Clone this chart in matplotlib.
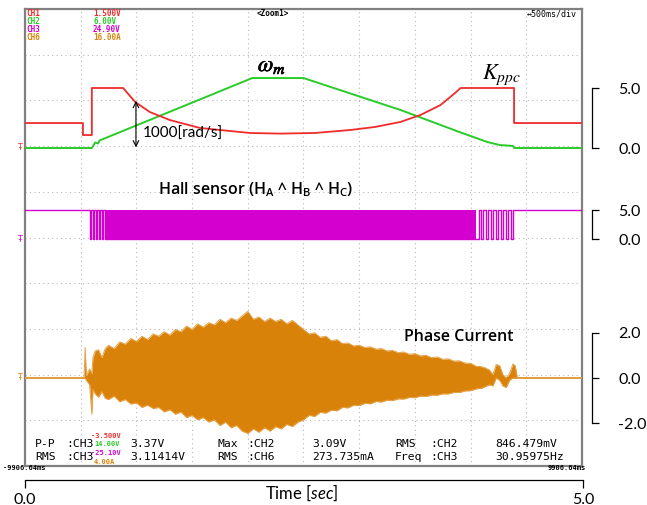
import matplotlib

matplotlib.use("Agg")
import matplotlib.patheffects as pe
import matplotlib.pyplot as plt
import numpy as np

W, H = 647, 505

# ---- values (time in s, levels in right-axis units) ----
kppc_t = [0.0, 0.52, 0.52, 0.60, 0.60, 0.88, 0.99, 1.12, 1.30, 1.57, 2.02, 2.29, 2.60,
          2.92, 3.14, 3.37, 3.55, 3.73, 3.86, 3.91, 4.39, 4.39, 5.0]
kppc_v = [2.08, 2.08, 1.08, 1.08, 5.0, 5.0, 3.83, 3.0, 2.33, 1.67, 1.25, 1.2, 1.25,
          1.5, 1.75, 2.17, 2.75, 3.58, 4.58, 5.0, 5.0, 2.08, 2.08]

wm_t = [0.0, 0.60, 0.63, 0.655, 0.67, 2.04, 2.50, 3.37, 3.90, 4.0, 4.15, 4.26, 4.38, 4.39, 5.0]
wm_v = [0.0, 0.0, 0.45, 0.38, 0.63, 5.83, 5.83, 3.17, 1.33, 1.0, 0.5, 0.25, 0.17, 0.0, 0.0]

hall_t = [0.0, 0.585, 0.592, 0.61, 0.617, 0.64, 0.647, 0.665, 0.672, 0.695, 0.702, 0.72,
          4.05, 4.075, 4.09, 4.11, 4.135, 4.155, 4.18, 4.20, 4.225, 4.245, 4.27, 4.29,
          4.315, 4.335, 4.36, 4.38, 4.405, 5.0]
hall_v = [5, 0, 5, 0, 5, 0, 5, 0, 5, 0, 5, 0,
          0, 5, 0, 5, 0, 5, 0, 5, 0, 5, 0, 5,
          0, 5, 0, 5, 5, 5]
hall_band = [0.72, 4.05]

ph_t = [0.0, 0.53, 0.54, 0.55, 0.58, 0.60, 0.61, 0.63, 0.66, 0.69, 0.72,
        0.75, 0.80, 0.85, 0.90, 0.95, 1.00, 1.05, 1.10, 1.15, 1.20, 1.25, 1.30, 1.35,
        1.40, 1.45, 1.50, 1.55, 1.60, 1.65, 1.70, 1.75, 1.80, 1.85, 1.90, 1.95, 2.00,
        2.05, 2.10, 2.15, 2.20, 2.25, 2.30, 2.35, 2.40, 2.45, 2.50, 2.55, 2.60, 2.65,
        2.70, 2.75, 2.80, 2.85, 2.90, 2.95, 3.00, 3.05, 3.10, 3.15, 3.20, 3.25, 3.30,
        3.35, 3.40, 3.45, 3.50, 3.55, 3.60, 3.65, 3.70, 3.75, 3.80, 3.85, 3.90, 3.95,
        4.00, 4.05, 4.10, 4.13, 4.17, 4.20, 4.23, 4.26, 4.29, 4.32, 4.35, 4.38, 4.40,
        4.42, 5.0]
ph_hi = [0.0, 0.0, 1.35, 0.1, 0.4, 0.2, 0.9, 1.2, 1.25, 0.9, 1.3,
         1.45, 1.30, 1.60, 1.50, 1.75, 1.62, 1.85, 1.70, 1.95, 1.85, 2.05, 1.90, 2.15,
         2.05, 2.30, 2.15, 2.40, 2.25, 2.45, 2.35, 2.60, 2.45, 2.65, 2.55, 2.75, 2.95,
         2.60, 2.70, 2.50, 2.65, 2.50, 2.60, 2.40, 2.55, 2.35, 2.15, 1.95, 2.00, 1.80,
         1.85, 1.65, 1.70, 1.52, 1.55, 1.42, 1.45, 1.35, 1.38, 1.28, 1.30, 1.20, 1.22,
         1.12, 1.15, 1.05, 1.08, 0.98, 1.00, 0.90, 0.93, 0.83, 0.85, 0.75, 0.76, 0.66,
         0.65, 0.52, 0.50, 0.45, 0.35, 0.15, 0.60, 0.55, 0.15, 0.0, 0.2, 0.62, 0.55,
         0.0, 0.0]
ph_lo = [0.0, 0.0, 0.0, -0.1, -0.3, -1.6, -0.5, -0.7, -0.85, -0.6, -0.9,
         -0.95, -0.80, -1.05, -0.95, -1.15, -1.10, -1.30, -1.20, -1.35, -1.30, -1.50, -1.40, -1.60,
         -1.50, -1.75, -1.65, -1.85, -1.75, -1.95, -1.85, -2.10, -1.95, -2.20, -2.10, -2.35, -2.45,
         -2.25, -2.40, -2.20, -2.35, -2.15, -2.25, -2.05, -2.15, -1.95, -1.85, -1.65, -1.70, -1.52,
         -1.55, -1.42, -1.45, -1.30, -1.32, -1.20, -1.22, -1.12, -1.14, -1.04, -1.06, -0.98, -1.00,
         -0.92, -0.93, -0.86, -0.87, -0.80, -0.82, -0.75, -0.76, -0.70, -0.70, -0.64, -0.64, -0.57,
         -0.56, -0.48, -0.45, -0.38, -0.30, -0.35, 0.0, -0.10, -0.35, -0.42, -0.10, 0.0, 0.0,
         0.0, 0.0]

top_ticks = [0.0, 5.0]
hall_ticks = [0.0, 5.0]
ph_ticks = [-2.0, 0.0, 2.0]
time_ticks = [0.0, 5.0]

plt.rcParams["axes.unicode_minus"] = False
plt.rcParams["font.family"] = ["Lato", "DejaVu Sans"]
plt.rcParams["mathtext.fontset"] = "stix"
plt.rcParams["mathtext.rm"] = "Lato"
plt.rcParams["mathtext.it"] = "Lato:italic"
plt.rcParams["mathtext.bf"] = "Lato:bold"

RED = "#ef2b2b"
GREEN = "#28cc28"
MAGENTA = "#d400d0"
ORANGE = "#d98209"
ORANGE_LT = "#e6a247"
GRID = "#b8b8b8"
FRAME = "#808080"
MONO = ["DejaVu Sans Mono", "DejaVu Sans"]

SCOPE = (25, 9, 582, 466)


def box(x0, y0, x1, y1):
    return [x0 / W, 1 - y1 / H, (x1 - x0) / W, (y1 - y0) / H]


fig = plt.figure(figsize=(W / 100, H / 100), dpi=100)


def put(x, y, s, **kw):
    kw.setdefault("va", "center")
    return fig.text(x / W, 1 - y / H, s, **kw)


scope = fig.add_axes(box(*SCOPE))
scope.set_xlim(0, 5)
scope.set_ylim(0, 10)
scope.set_xticks(np.arange(0, 5.01, 0.5))
scope.set_yticks(np.arange(0, 11, 1))
scope.tick_params(length=0, labelbottom=False, labelleft=False)
scope.grid(True, color=GRID, lw=0.8, ls=(0, (1, 3)))
for sp in scope.spines.values():
    sp.set_color(FRAME)
    sp.set_linewidth(1.6)


def channel(zero_px, px_per_unit):
    ax = fig.add_axes(box(*SCOPE))
    lo = -(SCOPE[3] - zero_px) / px_per_unit
    hi = (zero_px - SCOPE[1]) / px_per_unit
    ax.set_xlim(0, 5)
    ax.set_ylim(lo, hi)
    ax.axis("off")
    return ax


def bracket(src, ticks):
    ax = fig.add_axes(box(560, SCOPE[1], 592, SCOPE[3]))
    ax.set_ylim(src.get_ylim())
    ax.patch.set_visible(False)
    for name in ("left", "top", "bottom"):
        ax.spines[name].set_visible(False)
    ax.spines["right"].set_bounds(ticks[0], ticks[-1])
    ax.spines["right"].set_linewidth(0.9)
    ax.set_xticks([])
    ax.yaxis.tick_right()
    ax.set_yticks(ticks)
    ax.set_yticklabels([f"{v:.1f}" for v in ticks])
    ax.tick_params(axis="y", direction="out", length=5, width=0.9, pad=14, labelsize=11.5)
    return ax


top = channel(148, 12.0)
hall = channel(239, 5.8)
phase = channel(378, 22.6)

top.plot(wm_t, wm_v, color=GREEN, lw=1.4)
top.plot(kppc_t, kppc_v, color=RED, lw=1.3)

hall.fill_between(hall_band, 0, 5, color=MAGENTA, lw=0)
hall.step(hall_t, hall_v, where="post", color=MAGENTA, lw=1.0)

phase.plot(ph_t, np.zeros(len(ph_t)), color=ORANGE, lw=1.2)
phase.fill_between(ph_t, ph_lo, ph_hi, color=ORANGE, lw=0)
phase.plot(ph_t, ph_hi, color=ORANGE_LT, lw=0.7)
phase.plot(ph_t, ph_lo, color=ORANGE_LT, lw=0.7)

bracket(top, top_ticks)
bracket(hall, hall_ticks)
bracket(phase, ph_ticks)

# time axis under the capture
tax = fig.add_axes(box(25, 470, 583, 480))
tax.set_xlim(0, 5)
tax.patch.set_visible(False)
for name in ("left", "top", "right"):
    tax.spines[name].set_visible(False)
tax.spines["bottom"].set_linewidth(0.9)
tax.set_yticks([])
tax.set_xticks(time_ticks)
tax.set_xticklabels([f"{v:.1f}" for v in time_ticks])
tax.tick_params(axis="x", direction="out", length=6, width=0.9, pad=3, labelsize=11.5)
put(302, 493, "Time [$\\mathit{sec}$]", ha="center", fontsize=12, math_fontfamily="custom")

# ground markers
for y, c in ((148, RED), (239, MAGENTA), (378, ORANGE)):
    put(20, y, "Ŧ", ha="center", color=c, fontsize=5.5, family="DejaVu Sans")

# annotations
top.annotate("", xy=(0.996, 0.05), xytext=(0.996, 3.92),
             arrowprops=dict(arrowstyle="<->", color="black", lw=0.8, shrinkA=0, shrinkB=0))
put(143, 134, "1000[rad/s]", fontsize=11)
put(272, 66, r"$\omega_m$", ha="center", fontsize=16,
    path_effects=[pe.withStroke(linewidth=0.5, foreground="black")])
put(502, 75, r"$K_{ppc}$", ha="center", fontsize=16)
put(256, 190, r"Hall sensor (H$\mathregular{_A}$ ^ H$\mathregular{_B}$ ^ H$\mathregular{_C}$)",
    ha="center", fontsize=11.5, family="Open Sans", fontweight="semibold")
put(459, 337, "Phase Current", ha="center", fontsize=11.5, family="Open Sans",
    fontweight="semibold")

# scope header
for i, (name, val, c) in enumerate((("CH1", "1.500V", RED), ("CH2", "6.00V", GREEN),
                                    ("CH3", "24.90V", MAGENTA), ("CH6", "16.00A", ORANGE))):
    put(26, 13 + 8 * i, name, color=c, fontsize=5.5, family=MONO, fontweight="bold")
    put(93, 13 + 8 * i, val, color=c, fontsize=5.5, family=MONO, fontweight="bold")
put(273, 14, "<Zoom1>", ha="center", fontsize=5.5, family=MONO, fontweight="bold")
put(527, 14, "↔500ms/div", fontsize=6, family=MONO)

# measurement block
r1, r2 = 444, 457
cols = [(35, "P-P", "RMS"), (66, ":CH3", ":CH3"), (130, "3.37V", "3.11414V"),
        (217, "Max", "RMS"), (247, ":CH2", ":CH6"), (312, "3.09V", "273.735mA"),
        (395, "RMS", "Freq"), (430, ":CH2", ":CH3"), (495, "846.479mV", "30.95975Hz")]
for x, a, b in cols:
    put(x, r1, a, fontsize=8.2, family=MONO)
    put(x, r2, b, fontsize=8.2, family=MONO)
for y, s, c in ((436, "-3.500V", RED), (444.5, "14.00V", GREEN),
                (453, "-25.10V", MAGENTA), (461.5, "4.00A", ORANGE)):
    put(91 if s.startswith("-") else 94, y, s, color=c, fontsize=5, family=MONO,
        fontweight="bold")
put(3, 468, "-9906.64ms", fontsize=5, family=MONO, fontweight="bold")
put(548, 468, "9906.64ms", fontsize=5, family=MONO, fontweight="bold")

fig.savefig("out.png", dpi=100)
